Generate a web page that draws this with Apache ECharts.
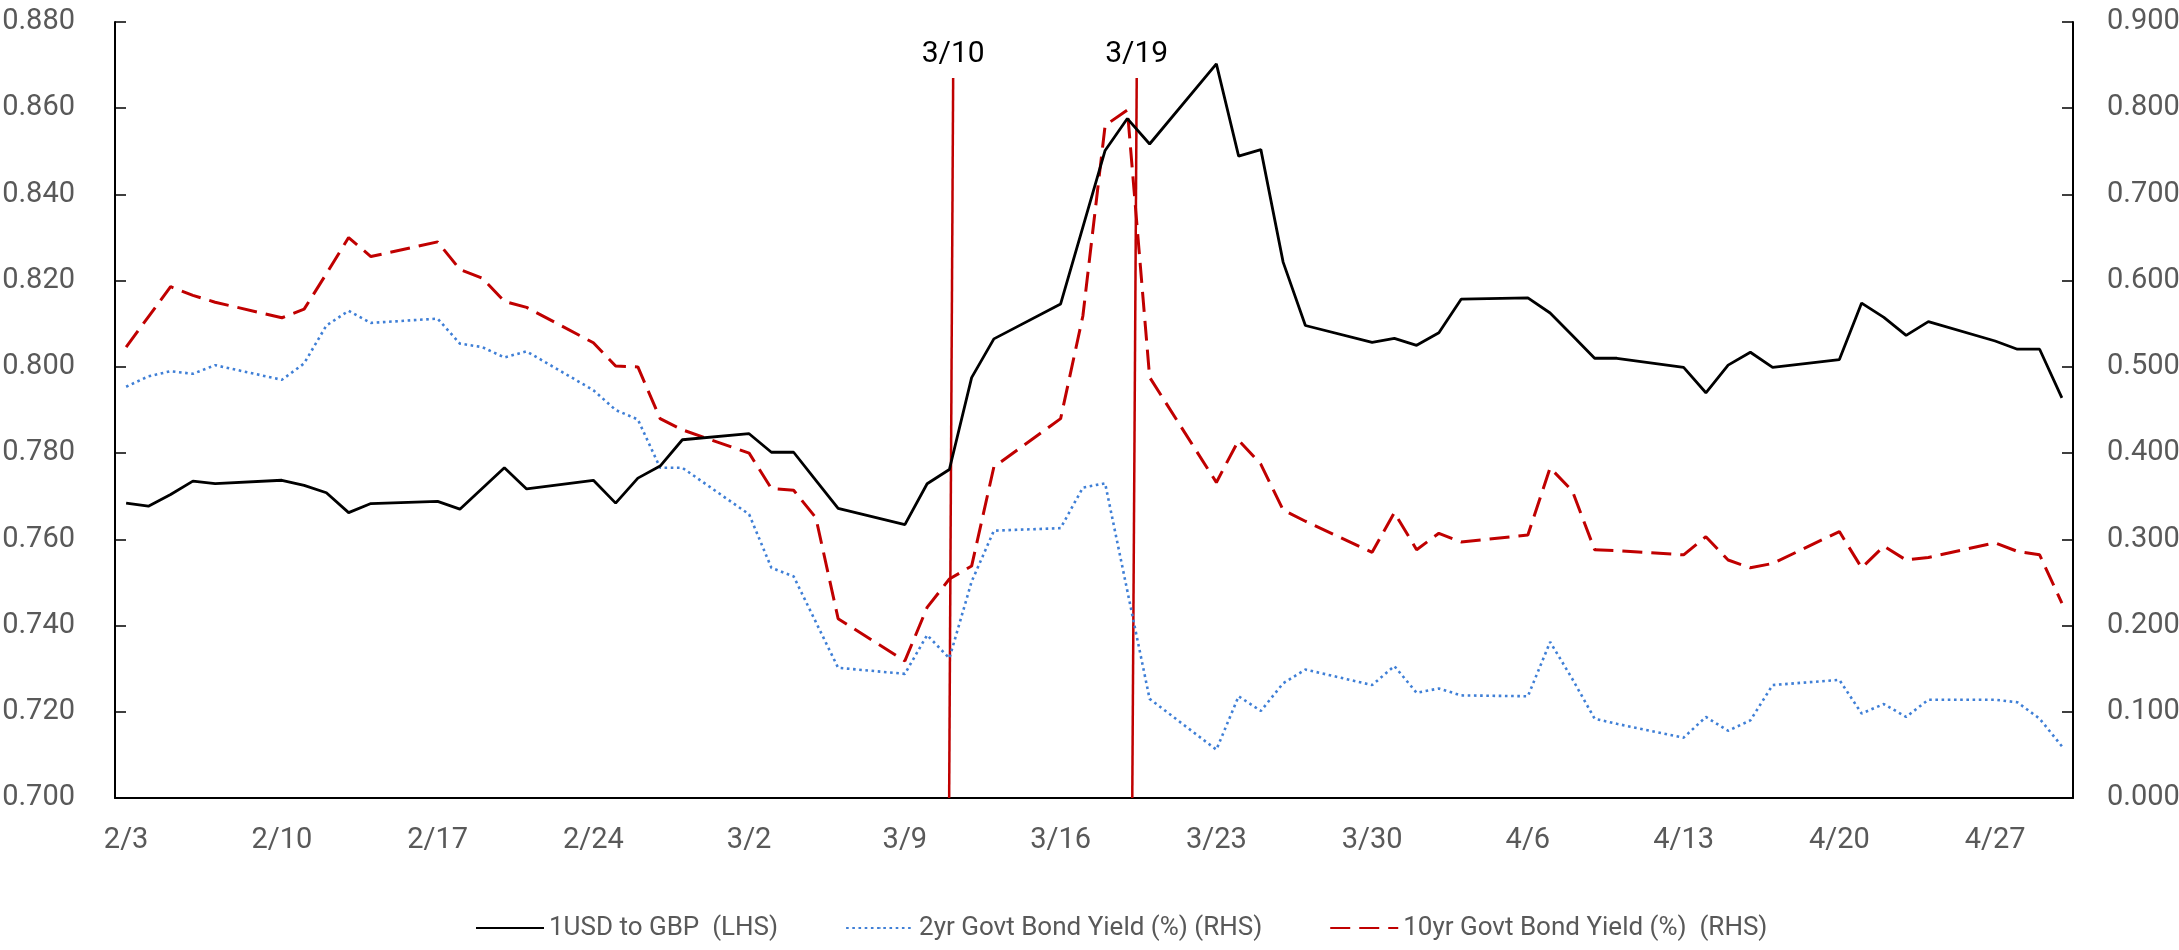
<!DOCTYPE html>
<html>
<head>
<meta charset="utf-8">
<script src="https://cdn.jsdelivr.net/npm/echarts@6/dist/echarts.min.js"></script>
<style>
html, body { margin: 0; padding: 0; background: #fff; }
#chart { width: 2179px; height: 950px; }
</style>
</head>
<body>
<div id="chart"></div>
<script>
// trading days, 2020
const dates = [
  '2/3','2/4','2/5','2/6','2/7', '2/10','2/11','2/12','2/13','2/14',
  '2/17','2/18','2/19','2/20','2/21', '2/24','2/25','2/26','2/27','2/28',
  '3/2','3/3','3/4','3/5','3/6', '3/9','3/10','3/11','3/12','3/13',
  '3/16','3/17','3/18','3/19','3/20', '3/23','3/24','3/25','3/26','3/27',
  '3/30','3/31','4/1','4/2','4/3', '4/6','4/7','4/8','4/9','4/10',
  '4/13','4/14','4/15','4/16','4/17', '4/20','4/21','4/22','4/23','4/24',
  '4/27','4/28','4/29','4/30'
]
const usdGbp = [
  0.7684, 0.7677, 0.7704, 0.7735, 0.7729,  0.7737, 0.7725, 0.7708, 0.7662, 0.7683,
  0.7688, 0.7670, 0.7718, 0.7766, 0.7717,  0.7737, 0.7684, 0.7742, 0.7770, 0.7831,
  0.7845, 0.7802, 0.7802, 0.7737, 0.7672,  0.7634, 0.7729, 0.7762, 0.7975, 0.8065,
  0.8146, 0.8324, 0.8502, 0.8576, 0.8517,  0.8703, 0.8489, 0.8504, 0.8243, 0.8096,
  0.8057, 0.8066, 0.8050, 0.8079, 0.8157,  0.8160, 0.8125, 0.8073, 0.8020, 0.8020,
  0.7999, 0.7940, 0.8004, 0.8034, 0.7999,  0.8017, 0.8148, 0.8115, 0.8073, 0.8105,
  0.8060, 0.8041, 0.8041, 0.7928
]
const yield2y = [
  0.477, 0.489, 0.495, 0.492, 0.502,  0.485, 0.504, 0.548, 0.565, 0.551,
  0.556, 0.527, 0.523, 0.511, 0.518,  0.473, 0.450, 0.439, 0.383, 0.383,
  0.329, 0.267, 0.257, 0.204, 0.151,  0.144, 0.189, 0.162, 0.251, 0.310,
  0.313, 0.360, 0.365, 0.240, 0.115,  0.056, 0.118, 0.101, 0.133, 0.149,
  0.131, 0.153, 0.122, 0.127, 0.119,  0.118, 0.181, 0.138, 0.092, 0.086,
  0.070, 0.094, 0.078, 0.090, 0.131,  0.137, 0.098, 0.109, 0.094, 0.114,
  0.114, 0.111, 0.092, 0.060
]
const yield10y = [
  0.523, 0.558, 0.593, 0.583, 0.575,  0.557, 0.567, 0.608, 0.650, 0.628,
  0.645, 0.613, 0.603, 0.576, 0.569,  0.528, 0.501, 0.500, 0.440, 0.427,
  0.400, 0.359, 0.357, 0.325, 0.208,  0.159, 0.221, 0.254, 0.269, 0.384,
  0.440, 0.559, 0.780, 0.798, 0.488,  0.366, 0.415, 0.387, 0.334, 0.321,
  0.285, 0.331, 0.288, 0.307, 0.297,  0.305, 0.383, 0.356, 0.288, 0.287,
  0.282, 0.303, 0.276, 0.267, 0.272,  0.309, 0.267, 0.292, 0.276, 0.279,
  0.296, 0.286, 0.282, 0.226
]
const leftTicks = [0.70, 0.72, 0.74, 0.76, 0.78, 0.80, 0.82, 0.84, 0.86, 0.88]
const rightTicks = [0, 0.1, 0.2, 0.3, 0.4, 0.5, 0.6, 0.7, 0.8, 0.9]
// rate cut markers: label, day offset at bottom / top, top value (LHS)
const eventNames = ['3/10', '3/19']
const eventFoot = [37.49, 45.72]
const eventHead = [37.67, 45.92]
const eventHigh = 0.867

const FONT = 'Roboto, "Noto Sans", sans-serif'
const GREY = '#595959'

// calendar axis 2/3 .. 4/30, weekends left empty
const days = []
for (let t = Date.UTC(2020, 1, 3); t <= Date.UTC(2020, 3, 30); t += 86400000) {
  const d = new Date(t)
  days.push((d.getUTCMonth() + 1) + '/' + d.getUTCDate())
}
function onCalendar(values){
  const out = days.map(() => null)
  dates.forEach((k, i) => { out[days.indexOf(k)] = values[i] })
  return out
}

const names = ['1USD to GBP  (LHS)', '2yr Govt Bond Yield (%) (RHS)', '10yr Govt Bond Yield (%)  (RHS)']

const eventSeries = eventNames.map((name, i) => ({
  type: 'line',
  xAxisIndex: 1,
  yAxisIndex: 0,
  symbol: 'circle',
  symbolSize: 0,
  silent: true,
  lineStyle: { color: '#c00000', width: 2.5 },
  itemStyle: { color: '#c00000' },
  z: 1,
  data: [
    [eventFoot[i], leftTicks[0]],
    {
      value: [eventHead[i], eventHigh],
      label: {
        show: true, position: 'top', distance: 9, formatter: name,
        color: '#000', fontSize: 30, fontFamily: FONT
      }
    }
  ]
}))

const chart = echarts.init(document.getElementById('chart'))
chart.setOption({
  animation: false,
  backgroundColor: '#fff',
  grid: { left: 115, right: 106, top: 22, bottom: 152, containLabel: false, outerBoundsMode: 'none' },
  legend: {
    data: names,
    left: 470,
    top: 910,
    itemWidth: 68,
    itemHeight: 2,
    itemGap: 67,
    textStyle: { color: GREY, fontSize: 26, fontFamily: FONT }
  },
  xAxis: [{
    type: 'category',
    data: days,
    boundaryGap: true,
    axisLine: { lineStyle: { color: '#000', width: 2 } },
    axisTick: { interval: 6, length: 12, lineStyle: { color: '#000', width: 1.5 } },
    axisLabel: { interval: 6, margin: 28, color: GREY, fontSize: 29, fontFamily: FONT },
    splitLine: { show: false }
  }, {
    type: 'value',
    min: 0,
    max: days.length,
    show: false
  }],
  yAxis: [{
    type: 'value',
    min: leftTicks[0],
    max: leftTicks[leftTicks.length - 1],
    interval: 0.02,
    axisLine: { show: true, lineStyle: { color: '#000', width: 2 } },
    axisTick: { show: true, inside: true, length: 11, lineStyle: { color: '#000', width: 1.5 } },
    axisLabel: { margin: 40, color: GREY, fontSize: 29, fontFamily: FONT, formatter: v => v.toFixed(3) },
    splitLine: { show: false }
  }, {
    type: 'value',
    position: 'right',
    min: rightTicks[0],
    max: rightTicks[rightTicks.length - 1],
    interval: 0.1,
    axisLine: { show: true, lineStyle: { color: '#000', width: 2 } },
    axisTick: { show: true, inside: true, length: 11, lineStyle: { color: '#000', width: 1.5 } },
    axisLabel: { margin: 34, color: GREY, fontSize: 29, fontFamily: FONT, formatter: v => v.toFixed(3) },
    splitLine: { show: false }
  }],
  series: [{
    name: names[0],
    type: 'line',
    yAxisIndex: 0,
    connectNulls: true,
    symbol: 'none',
    lineStyle: { color: '#000', width: 2.8 },
    itemStyle: { color: '#000' },
    z: 3,
    data: onCalendar(usdGbp)
  }, {
    name: names[1],
    type: 'line',
    yAxisIndex: 1,
    connectNulls: true,
    symbol: 'none',
    lineStyle: { color: '#3f7fd6', width: 2.6, type: [2.6, 3.6] },
    itemStyle: { color: '#3f7fd6' },
    z: 2,
    data: onCalendar(yield2y)
  }, {
    name: names[2],
    type: 'line',
    yAxisIndex: 1,
    connectNulls: true,
    symbol: 'none',
    lineStyle: { color: '#c00000', width: 3, type: [20, 9] },
    itemStyle: { color: '#c00000' },
    z: 2,
    data: onCalendar(yield10y)
  }].concat(eventSeries)
})
</script>
</body>
</html>
